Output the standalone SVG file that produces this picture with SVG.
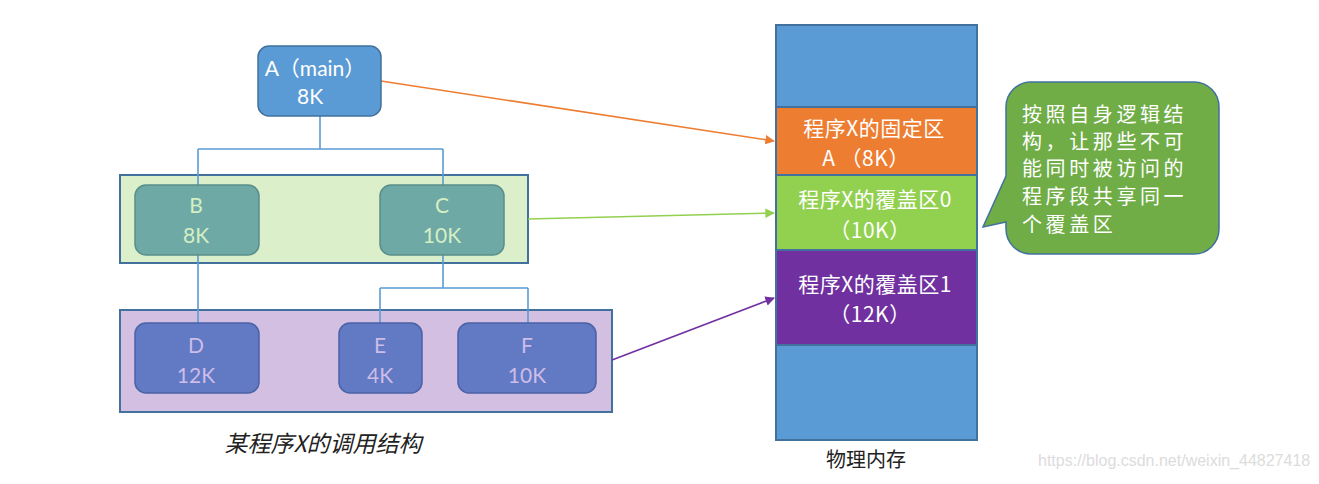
<svg xmlns="http://www.w3.org/2000/svg" width="1319" height="484" viewBox="0 0 1319 484">
<defs>
<style>
.lat{font-family:Lato,"Noto Sans","Noto Sans CJK SC",sans-serif;font-size:21px;text-anchor:middle;dominant-baseline:central}
.cjk{font-family:"Noto Sans CJK SC","Noto Sans",sans-serif;text-anchor:middle;dominant-baseline:central}
.wire{stroke:#5b9bd5;stroke-width:1.6;fill:none}
.memtxt{fill:#ffffff;font-size:21px;letter-spacing:0.5px}
</style>
<marker id="aO" viewBox="0 0 10 10" refX="9" refY="5" markerWidth="6" markerHeight="6" orient="auto"><path d="M0,0 L10,5 L0,10 z" fill="#ed7d31"/></marker>
<marker id="aG" viewBox="0 0 10 10" refX="9" refY="5" markerWidth="6" markerHeight="6" orient="auto"><path d="M0,0 L10,5 L0,10 z" fill="#92d050"/></marker>
<marker id="aP" viewBox="0 0 10 10" refX="9" refY="5" markerWidth="6" markerHeight="6" orient="auto"><path d="M0,0 L10,5 L0,10 z" fill="#7030a0"/></marker>
</defs>
<rect width="1319" height="484" fill="#ffffff"/>

<g id="containers">
<rect x="120" y="175" width="408" height="88" fill="#dbefca" stroke="#41719c" stroke-width="2"/>
<rect x="120" y="310" width="492" height="102" fill="#d3bfe1" stroke="#41719c" stroke-width="2"/>
</g>

<g id="connectors">
<path class="wire" d="M320 116 V149 M198 149 H443 M198 149 V185 M443 149 V185"/>
<path class="wire" d="M198 255 V323 M443 255 V288 M380 288 H528 M380 288 V323 M528 288 V323"/>
<line x1="381" y1="81" x2="774" y2="141" stroke="#ed7d31" stroke-width="1.6" marker-end="url(#aO)"/>
<line x1="528" y1="219" x2="774" y2="213" stroke="#92d050" stroke-width="1.6" marker-end="url(#aG)"/>
<line x1="612" y1="360" x2="774" y2="298" stroke="#7030a0" stroke-width="1.6" marker-end="url(#aP)"/>
</g>

<g id="nodeA">
<rect x="258" y="46" width="123" height="70" rx="11" fill="#5b9bd5" stroke="#41719c" stroke-width="1.5"/>
<text class="lat" x="315" y="67" fill="#ffffff">A（main）</text>
<text class="lat" x="310" y="95" fill="#ffffff">8K</text>
</g>
<g id="nodeB">
<rect x="135" y="185" width="124" height="70" rx="11" fill="#6ea9a6" stroke="#5b8e8a" stroke-width="1.5"/>
<text class="lat" x="196" y="204" fill="#d6efc2">B</text>
<text class="lat" x="196" y="234" fill="#d6efc2">8K</text>
</g>
<g id="nodeC">
<rect x="380" y="185" width="124" height="70" rx="11" fill="#6ea9a6" stroke="#5b8e8a" stroke-width="1.5"/>
<text class="lat" x="442" y="204" fill="#d6efc2">C</text>
<text class="lat" x="442" y="234" fill="#d6efc2">10K</text>
</g>
<g id="nodeD">
<rect x="135" y="323" width="124" height="70" rx="11" fill="#6279c4" stroke="#4a62a6" stroke-width="1.5"/>
<text class="lat" x="196" y="344" fill="#cdbde8">D</text>
<text class="lat" x="196" y="374" fill="#cdbde8">12K</text>
</g>
<g id="nodeE">
<rect x="339" y="323" width="83" height="70" rx="11" fill="#6279c4" stroke="#4a62a6" stroke-width="1.5"/>
<text class="lat" x="380" y="344" fill="#cdbde8">E</text>
<text class="lat" x="380" y="374" fill="#cdbde8">4K</text>
</g>
<g id="nodeF">
<rect x="458" y="323" width="138" height="70" rx="11" fill="#6279c4" stroke="#4a62a6" stroke-width="1.5"/>
<text class="lat" x="527" y="344" fill="#cdbde8">F</text>
<text class="lat" x="527" y="374" fill="#cdbde8">10K</text>
</g>

<g id="caption">
<text class="cjk" x="323" y="442" font-size="23" font-style="italic" fill="#222222">某程序X的调用结构</text>
</g>

<g id="memory">
<rect x="776" y="25" width="201" height="82" fill="#5b9bd5" stroke="#41719c" stroke-width="2"/>
<rect x="776" y="107" width="201" height="68" fill="#ed7d31" stroke="#41719c" stroke-width="2"/>
<rect x="776" y="175" width="201" height="75" fill="#92d050" stroke="#41719c" stroke-width="2"/>
<rect x="776" y="250" width="201" height="95" fill="#7030a0" stroke="#41719c" stroke-width="2"/>
<rect x="776" y="345" width="201" height="95" fill="#5b9bd5" stroke="#41719c" stroke-width="2"/>
<text class="cjk memtxt" x="874" y="127">程序X的固定区</text>
<text class="cjk memtxt" x="866" y="157">A （8K）</text>
<text class="cjk memtxt" x="875" y="198">程序X的覆盖区0</text>
<text class="cjk memtxt" x="870" y="229">（10K）</text>
<text class="cjk memtxt" x="875" y="283">程序X的覆盖区1</text>
<text class="cjk memtxt" x="870" y="313">（12K）</text>
<text class="cjk" x="866" y="458" font-size="20" fill="#222222">物理内存</text>
</g>

<g id="callout">
<path d="M1031 82 H1194 A25 25 0 0 1 1219 107 V229 A25 25 0 0 1 1194 254 H1031 A25 25 0 0 1 1006 229 V222 L983 227 L1006 176 V107 A25 25 0 0 1 1031 82 Z" fill="#70ad47" stroke="#41719c" stroke-width="1.5"/>
<g font-family="'Noto Sans CJK SC',sans-serif" font-size="20" fill="#ffffff" letter-spacing="3.6" dominant-baseline="central">
<text x="1022" y="113">按照自身逻辑结</text>
<text x="1022" y="140">构，让那些不可</text>
<text x="1022" y="167">能同时被访问的</text>
<text x="1022" y="195">程序段共享同一</text>
<text x="1022" y="223">个覆盖区</text>
</g>
</g>

<text x="1038" y="466" font-family="'Liberation Sans',sans-serif" font-size="16" fill="#dcdcdc">https://blog.csdn.net/weixin_44827418</text>
</svg>
